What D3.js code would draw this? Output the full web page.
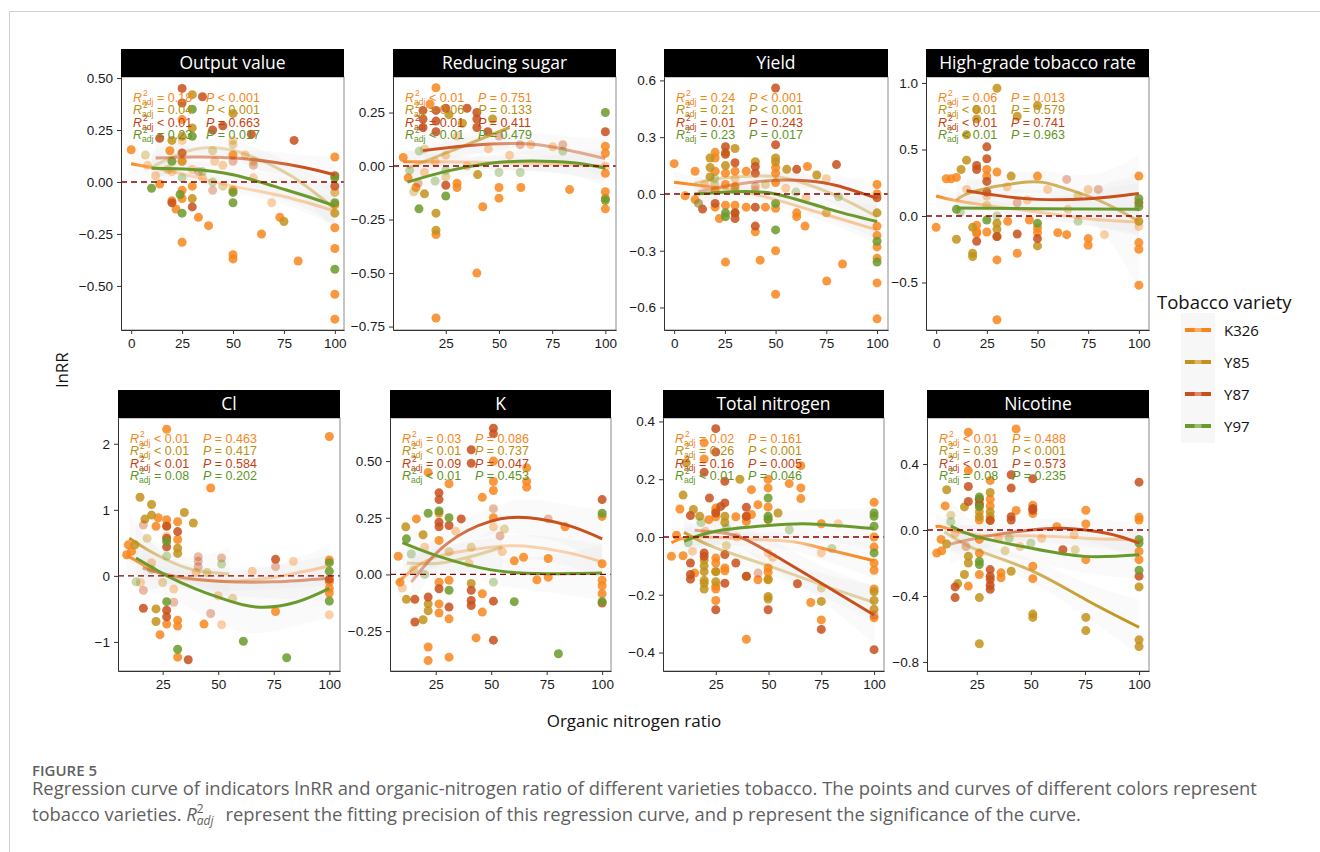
<!DOCTYPE html>
<html>
<head>
<meta charset="utf-8">
<script src="https://cdn.jsdelivr.net/npm/d3@7"></script>
<style>
  body { margin: 0; background: #fff; }
  svg { display: block; }
</style>
</head>
<body>
<svg id="chart" width="1320" height="852"></svg>
<script>
// ---- data ----
const varieties = ['K326', 'Y85', 'Y87', 'Y97'];

const panelTitles = ['Output value', 'Reducing sugar', 'Yield', 'High-grade tobacco rate',
  'Cl', 'K', 'Total nitrogen', 'Nicotine'];

const xDomains = [[-5, 104.5], [0.2, 105], [-5, 105.4], [-5, 105], [4.9, 104.8], [4.4, 104], [0, 104.7], [2, 104.6]];
const yDomains = [[-0.712, 0.505], [-0.766, 0.416], [-0.719, 0.618], [-0.857, 1.045],
  [-1.44, 2.39], [-0.426, 0.69], [-0.464, 0.412], [-0.855, 0.679]];

const xTicks = [[0, 25, 50, 75, 100], [25, 50, 75, 100], [0, 25, 50, 75, 100], [0, 25, 50, 75, 100],
  [25, 50, 75, 100], [25, 50, 75, 100], [25, 50, 75, 100], [25, 50, 75, 100]];
const yTicks = [[-0.5, -0.25, 0, 0.25, 0.5], [-0.75, -0.5, -0.25, 0, 0.25], [-0.6, -0.3, 0, 0.3, 0.6], [-0.5, 0, 0.5, 1.0],
  [-1, 0, 1, 2], [-0.25, 0, 0.25, 0.5], [-0.4, -0.2, 0, 0.2, 0.4], [-0.8, -0.4, 0, 0.4]];
const yTickFormats = ['.2f', '.2f', '.1f', '.1f', 'd', '.2f', '.1f', '.1f'];

// adjusted R2 and P per panel, in variety order
const r2Labels = [
  ['= 0.18', '= 0.04', '< 0.01', '= 0.23'],
  ['< 0.01', '= 0.06', '= 0.01', '< 0.01'],
  ['= 0.24', '= 0.21', '= 0.01', '= 0.23'],
  ['= 0.06', '< 0.01', '< 0.01', '< 0.01'],
  ['< 0.01', '< 0.01', '< 0.01', '= 0.08'],
  ['= 0.03', '< 0.01', '= 0.09', '< 0.01'],
  ['= 0.02', '= 0.26', '= 0.16', '< 0.01'],
  ['< 0.01', '= 0.39', '< 0.01', '= 0.08']
];
const pLabels = [
  ['< 0.001', '< 0.001', '= 0.663', '= 0.017'],
  ['= 0.751', '= 0.133', '= 0.411', '= 0.479'],
  ['< 0.001', '< 0.001', '= 0.243', '= 0.017'],
  ['= 0.013', '= 0.579', '= 0.741', '= 0.963'],
  ['= 0.463', '= 0.417', '= 0.584', '= 0.202'],
  ['= 0.086', '= 0.737', '= 0.047', '= 0.453'],
  ['= 0.161', '< 0.001', '= 0.005', '= 0.046'],
  ['= 0.488', '< 0.001', '= 0.573', '= 0.235']
];

// points: [ratio, lnRR, weight]
const ptsOutput = {
  K326: [[0,0.155,1],[8,0.08,.4],[14,-0.01,1],[19,0.15,1],[20,-0.09,1],[22,-0.13,1],[25,-0.29,1],[25,0.1,1],[25,-0.04,1],[25,-0.08,1],[25,0.3,1],[25,0.2,.4],[30,0.06,.4],[30,-0.02,1],[33,-0.17,1],[38,-0.21,1],[41,0.1,.4],[45,0.08,.4],[50,-0.04,1],[50,-0.35,1],[50,-0.37,1],[50,0.2,.4],[50,0.13,1],[56,0.13,.4],[64,-0.25,1],[69,-0.1,.4],[73,-0.17,1],[82,-0.38,1],[100,0.12,1],[100,-0.11,1],[100,-0.22,1],[100,-0.32,1],[100,-0.54,1],[100,-0.66,1],[100,-0.05,.4],[12,0.03,.4],[20,0.05,.4],[35,0.02,.4],[60,0.02,.4]],
  Y85: [[30,0.42,1],[50,0.33,1],[30,0.26,1],[7,0.13,.4],[20,0.2,1],[25,0.22,1],[25,0.1,.4],[40,0.15,.4],[50,0.18,.4],[18,0.06,.4],[60,0.1,.4],[75,-0.19,1],[100,-0.05,.4],[100,-0.15,1],[30,-0.08,1],[45,-0.02,.4]],
  Y87: [[25,0.45,1],[35,0.41,1],[14,0.21,1],[80,0.2,1],[40,0.25,1],[45,0.27,1],[59,0.23,1],[25,0.14,1],[25,0.38,1],[20,-0.1,1],[30,-0.12,1],[50,0.1,.4],[40,-0.04,.4],[100,0.03,1],[100,-0.02,1],[60,0.08,.4],[33,0.05,.4]],
  Y97: [[30,0.35,1],[30,0.22,1],[10,-0.03,1],[24,-0.06,1],[20,0.1,1],[25,-0.15,1],[50,-0.05,1],[50,-0.1,1],[100,-0.42,1],[100,0.02,1],[100,-0.1,1],[35,0.05,.4],[40,0.0,.4],[25,0.02,.4]]
};
const ptsSugar = {
  K326: [[20.4,0.366,1],[17.6,0.29,1],[20.4,-0.32,1],[20.4,-0.71,1],[39.6,-0.5,1],[42.4,-0.19,1],[50,-0.1,1],[50,-0.15,1],[60.3,-0.1,1],[83.2,-0.11,1],[75.3,0.09,.4],[11,-0.1,1],[7.3,-0.055,1],[5,0.04,1],[30.3,-0.1,1],[30.3,-0.08,1],[30.3,0.14,.4],[25,0.05,.4],[35,0.0,.4],[45,0.08,.4],[65,0.1,.4],[100,0.093,1],[100,0.06,1],[100,-0.034,1],[100,-0.12,1],[100,-0.2,1],[100,0.0,.4],[20,0.02,.4],[15,-0.03,.4],[55,0.05,.4]],
  Y85: [[26.5,0.24,1],[32.8,0.2,1],[20.4,-0.3,1],[20.4,-0.22,1],[15,-0.13,1],[40,-0.04,1],[47,0.22,1],[15,0.08,.4],[25,-0.05,.4],[100,-0.15,1],[10,-0.12,.4]],
  Y87: [[14.3,0.26,1],[14.3,0.22,1],[14.3,0.18,1],[20.4,0.26,1],[20.4,0.21,1],[20.4,0.16,1],[25,0.27,1],[35,0.27,1],[39.6,0.25,1],[39.6,0.22,1],[39.6,0.18,1],[44.8,0.16,1],[50,0.14,.4],[25,-0.09,1],[100,0.16,1],[80,0.1,.4],[12,-0.08,.4],[60,0.1,.4]],
  Y97: [[12.4,-0.2,1],[25,-0.14,1],[12.5,0.07,.4],[25,-0.02,.4],[50,-0.03,.4],[60,-0.03,.4],[100,0.25,1],[100,-0.16,1],[80,0.07,.4],[8,-0.02,.4],[20,-0.07,.4]]
};
const ptsYield = {
  K326: [[0,0.16,1],[5.4,-0.01,1],[10.3,0.12,1],[10.3,-0.03,1],[20.2,0.22,1],[20.2,0.19,1],[20.2,0.12,1],[20.2,0.02,1],[20.2,-0.07,1],[22.3,-0.13,1],[25.3,0.11,1],[25.3,0.05,1],[25.3,-0.06,1],[25.3,-0.36,1],[30,0.12,1],[30,0.04,1],[30,-0.06,1],[35.5,0.12,1],[35.5,-0.07,1],[40,-0.2,1],[42.4,-0.35,1],[45,-0.07,1],[50,0.14,1],[50,0.11,1],[50,0.06,1],[50,-0.076,1],[50,-0.3,1],[50,-0.53,1],[60.4,-0.1,1],[60.4,-0.12,1],[64.5,-0.17,1],[65.7,0.145,1],[75.2,-0.46,1],[75,0.08,.4],[75,-0.1,.4],[83,-0.37,1],[100,0.05,1],[100,0.0,1],[100,-0.17,1],[100,-0.28,1],[100,-0.34,1],[100,-0.47,1],[100,-0.66,1],[100,-0.22,1],[15,0.05,.4],[30,0.08,.4],[40,0.02,.4],[55,0.03,.4],[65,-0.02,.4]],
  Y85: [[17.7,0.19,1],[17.7,0.14,1],[17.7,0.09,1],[25.3,0.22,1],[25.3,0.15,1],[30,0.24,1],[40,0.17,1],[50,0.19,1],[50,0.17,1],[55.5,0.13,1],[70.3,0.1,1],[75,-0.1,.4],[100,-0.1,1],[30,-0.1,1],[20,0.05,.4],[45,0.05,.4]],
  Y87: [[20.2,-0.05,1],[25.3,0.25,1],[25.3,0.21,1],[30,0.165,1],[30,-0.1,1],[30,-0.13,1],[40,0.145,1],[40,0.11,1],[40,-0.07,1],[40,-0.17,1],[50,0.56,1],[50,0.26,1],[60.4,0.13,1],[80,0.155,1],[100,-0.02,1],[14,-0.08,1],[12,-0.05,.4],[40,0.04,.4]],
  Y97: [[25.3,-0.1,1],[25.3,-0.12,1],[50,-0.19,1],[50,-0.05,1],[60,0.01,.4],[81,-0.015,.4],[100,-0.25,1],[100,-0.36,1],[12,-0.05,.4],[20,0.08,.4],[30,0.02,.4]]
};
const ptsGrade = {
  K326: [[0,-0.085,1],[5,0.28,1],[7.4,0.28,1],[10,0.29,1],[20,-0.07,1],[20,-0.12,1],[20,-0.13,1],[25,0.35,1],[25,0.3,1],[25,-0.12,1],[30,0.33,1],[30,-0.33,1],[30,-0.78,1],[35.3,-0.04,1],[40,-0.28,1],[46,-0.03,1],[50,0.3,1],[50,-0.09,1],[50,-0.125,1],[60,-0.125,1],[64.4,-0.14,1],[75,-0.17,1],[75,-0.22,1],[83,-0.14,.4],[100,0.3,1],[100,-0.2,1],[100,-0.25,1],[100,-0.52,1],[15,0.2,.4],[25,0.15,.4],[35,0.22,.4],[45,0.12,.4],[55,0.2,.4],[65,0.05,.4],[75,0.2,.4],[100,-0.08,.4]],
  Y85: [[10,-0.175,1],[12.3,0.35,1],[15,0.42,1],[15,0.61,1],[18,-0.085,1],[18,-0.28,1],[18,-0.305,1],[20,0.8,1],[20,0.73,1],[30,0.96,1],[30,-0.055,1],[30,-0.1,1],[30,-0.155,1],[37,0.3,1],[40,0.75,1],[50,0.83,1],[50,-0.225,1],[100,-0.04,1],[70,0.15,.4],[25,0.08,.4]],
  Y87: [[20,0.38,1],[20,0.35,1],[20,-0.19,1],[25,0.52,1],[25,0.43,1],[25,0.26,1],[25,0.18,1],[30,-0.155,1],[40,-0.135,1],[50,-0.17,1],[64.4,0.275,.4],[80,0.2,.4],[100,0.1,1],[40,0.1,.4]],
  Y97: [[10,0.05,1],[25,-0.03,1],[50,-0.055,1],[100,0.13,1],[100,0.07,1],[12,0.03,.4],[70,-0.04,.4],[30,0.0,.4]]
};
const ptsCl = {
  K326: [[8.8,0.32,1],[9.5,0.47,1],[11,0.37,1],[23,0.88,1],[22,0.75,1],[23.8,-0.89,1],[26.8,2.22,1],[26.8,0.85,1],[26.8,0.76,1],[26.8,0.6,.4],[26.8,-0.73,1],[31.75,0.82,1],[31.75,0.55,1],[31.75,-0.67,1],[31.75,-0.76,1],[31.75,-1.23,1],[43.6,-0.73,1],[46.6,1.33,1],[51.5,-0.74,.4],[65.3,0.07,.4],[75.8,-0.54,1],[83.8,0.22,.4],[100,2.11,1],[100,0.24,1],[100,-0.09,1],[100,-0.19,1],[100,-0.26,1],[100,-0.59,.4],[20,0.2,.4],[30,-0.2,.4],[40,0.05,.4],[50,-0.3,.4],[15,-0.1,.4]],
  Y85: [[12.5,0.47,1],[14.8,1.19,1],[17,0.86,1],[20,1.08,1],[20,0.92,1],[22,-0.69,1],[22,-0.5,1],[31.75,0.42,1],[31.75,0.34,1],[34.75,0.96,1],[38.8,0.8,1],[56.5,-0.34,.4],[18,0.57,.4],[25,-0.1,.4],[45,0.05,.4]],
  Y87: [[16.3,0.77,.4],[16.3,-0.49,1],[16.3,-0.22,.4],[26.8,0.75,1],[26.8,0.57,1],[26.8,0.44,1],[26.8,-0.52,1],[26.8,-0.62,1],[31.75,0.67,1],[36.5,-1.27,1],[41,0.29,.4],[41,0.22,.4],[41,0.14,.4],[46.6,-0.57,.4],[51.5,0.27,.4],[75.8,0.25,1],[75.8,0.14,.4],[100,-0.05,1],[30,-0.4,.4]],
  Y97: [[13,-0.09,.4],[26.8,0.52,1],[26.8,0.3,.4],[26.8,-0.39,1],[31.75,-1.11,1],[51.5,0.18,.4],[61.3,-0.99,1],[80.8,-1.24,1],[100,0.2,1],[100,0.07,1],[100,-0.38,1],[20,0.1,.4]]
};
const ptsK = {
  K326: [[8.1,0.08,1],[8.9,-0.034,1],[10,-0.06,.4],[16.3,0.245,1],[21.6,0.45,1],[21.6,-0.32,1],[21.6,-0.38,1],[26.5,0.27,1],[26.5,0.15,1],[26.5,-0.034,1],[26.5,-0.13,1],[26.5,-0.17,1],[31,0.4,1],[31,-0.026,1],[31,-0.196,1],[31,-0.365,1],[34,0.19,.4],[43.2,-0.28,1],[46,0.34,1],[46,-0.085,1],[46,-0.166,1],[51,0.5,1],[51,0.41,1],[51,0.37,1],[51,0.25,1],[51,0.21,.4],[60.4,0.06,1],[64.6,0.076,1],[66,0.47,1],[66,0.41,1],[66,0.385,1],[70.6,-0.024,1],[75.7,0.07,1],[75.7,-0.012,1],[83.3,0.21,1],[100,0.256,1],[100,0.047,1],[100,-0.026,1],[100,-0.05,1],[100,-0.085,1],[40,0.05,.4],[55,0.1,.4],[20,0.12,.4]],
  Y85: [[11.5,0.21,1],[11.8,-0.11,1],[19.3,0.175,1],[19.3,-0.2,1],[21.6,-0.13,1],[21.6,-0.16,1],[41,-0.04,1],[41,0.12,.4],[56,0.2,.4],[31,0.1,.4],[15,0.02,.4]],
  Y87: [[15.6,-0.21,1],[15.6,-0.11,1],[21.6,-0.1,1],[26.5,0.36,1],[26.5,0.33,1],[26.5,0.23,1],[26.5,0.21,1],[26.5,-0.063,1],[31,0.216,1],[31,-0.144,1],[36.5,0.245,1],[41,0.55,1],[41,0.49,1],[41,-0.07,1],[41,-0.115,1],[41,-0.137,1],[51,0.645,1],[51,0.62,1],[51,0.29,.4],[51,-0.118,1],[51,-0.29,1],[54,0.17,.4],[75.7,0.245,.4],[100,0.33,1],[100,-0.126,1]],
  Y97: [[11.8,0.157,1],[14,0.09,.4],[21.6,0.27,1],[26.5,0.28,1],[31,0.25,1],[31,-0.07,1],[51,-0.034,.4],[60.4,-0.12,1],[80.3,-0.35,1],[100,0.27,1],[100,-0.12,1],[20,0.0,.4]]
};
const ptsTN = {
  K326: [[4,-0.067,1],[6.4,0.006,1],[8,0.097,1],[9.5,-0.065,1],[15,-0.125,1],[19.5,0.326,1],[19.5,0.27,1],[21.7,0.06,1],[25,0.1,1],[25,0.089,1],[25,0.07,1],[25,-0.073,1],[25,-0.09,1],[25,-0.12,1],[25,-0.17,1],[25,-0.18,1],[25,-0.22,1],[29.3,-0.107,1],[29.3,-0.117,1],[34.5,0.07,1],[39.5,-0.354,1],[39.5,0.07,1],[39.5,0.054,1],[41.9,0.164,1],[41.9,0.078,1],[45,0.112,1],[45,-0.148,1],[49.8,0.2,1],[49.8,0.17,1],[49.8,0.104,1],[49.8,0.06,1],[49.8,-0.055,.4],[49.8,-0.107,1],[49.8,-0.122,1],[49.8,-0.146,1],[52,-0.07,.4],[59.8,0.185,1],[65.3,0.17,1],[65.3,0.133,1],[65.3,0.247,1],[70,-0.227,1],[75,0.046,1],[75,-0.287,1],[75,-0.055,.4],[83,0.046,.4],[100,0.12,1],[100,0.0,1],[100,-0.035,1],[100,-0.09,1],[100,-0.115,1],[100,-0.18,1],[100,-0.28,1],[14,-0.05,.4],[20,0.02,.4],[35,0.0,.4]],
  Y85: [[9.5,0.145,1],[11,0.257,1],[14.4,0.095,1],[17.4,0.072,1],[19.5,-0.08,1],[19.5,-0.1,1],[19.5,-0.12,1],[19.5,-0.15,1],[19.5,-0.16,1],[19.5,-0.18,1],[25,-0.12,1],[25,-0.155,1],[29.3,0.072,1],[29.3,0.05,1],[36.4,0.2,1],[39.5,-0.136,1],[49.8,-0.148,1],[49.8,-0.206,1],[49.8,-0.215,1],[54.5,0.083,1],[75,-0.177,.4],[75,-0.223,1],[100,-0.19,1],[100,-0.22,1],[100,-0.25,1],[30,-0.03,.4]],
  Y87: [[13,0.074,1],[13,-0.09,1],[13,-0.13,1],[13,-0.146,1],[19.5,0.224,1],[19.5,-0.055,1],[19.5,-0.067,1],[22,0.135,1],[25,0.375,1],[25,0.294,1],[25,0.083,1],[25,-0.252,1],[27.4,0.106,1],[29.3,0.193,1],[29.3,0.118,1],[29.3,-0.061,1],[29.3,-0.16,1],[34.5,-0.09,1],[39.5,0.103,1],[39.5,0.072,1],[39.5,-0.136,1],[45,-0.125,.4],[49.8,-0.252,1],[63.7,-0.162,1],[75,-0.32,1],[100,-0.39,1],[100,-0.27,.4]],
  Y97: [[49.8,0.135,1],[49.8,0.072,1],[49.8,0.062,1],[59.8,0.025,.4],[80,-0.04,.4],[100,0.083,1],[100,0.072,1],[100,0.037,1],[100,-0.055,1],[12,-0.02,.4],[18,0.05,.4],[30,0.03,.4]]
};
const ptsNic = {
  K326: [[6.5,-0.14,1],[8.8,-0.126,1],[10.4,0.146,1],[8.5,-0.057,1],[21.1,0.593,1],[21.1,0.36,1],[21.1,-0.34,1],[26.2,0.11,1],[26.2,0.06,1],[26.2,-0.057,1],[26.2,-0.14,1],[26.2,-0.27,1],[31.2,0.3,1],[31.2,0.187,1],[31.2,0.146,1],[31.2,0.06,1],[36.2,-0.26,1],[36.2,-0.29,1],[43.2,0.613,1],[43.2,0.118,1],[50.9,0.15,1],[50.9,0.1,1],[50.9,-0.22,1],[50.9,-0.295,1],[62,0.02,1],[75.4,0.12,1],[75.4,0.037,1],[75.4,-0.18,1],[100,0.077,1],[100,0.06,1],[100,-0.13,1],[100,-0.18,1],[15,-0.02,.4],[35,-0.05,.4],[45,-0.1,.4],[55,-0.05,.4],[70,-0.03,.4]],
  Y85: [[11.1,0.244,1],[11.1,-0.085,1],[13,0.09,.4],[16.2,-0.325,1],[19.3,-0.27,1],[19.3,0.14,1],[21.1,-0.16,1],[21.1,-0.2,1],[26.2,0.187,1],[26.2,0.152,1],[26.2,0.081,1],[26.2,-0.41,1],[26.2,-0.69,1],[31.2,0.227,1],[31.2,0.11,1],[31.2,0.08,1],[38.1,-0.126,.4],[40.9,-0.25,1],[50.9,-0.51,1],[50.9,-0.53,1],[70.5,-0.12,.4],[75.4,-0.53,1],[75.4,-0.61,1],[100,-0.345,1],[100,-0.666,1],[100,-0.707,1]],
  Y87: [[15,-0.345,1],[15,-0.41,1],[21.1,0.264,1],[21.1,0.173,1],[26.2,0.187,1],[26.2,0.158,1],[31.2,0.057,1],[31.2,-0.24,1],[31.2,-0.28,1],[31.2,-0.3,1],[31.2,-0.335,1],[31.2,-0.36,1],[40.9,0.335,1],[40.9,0.254,1],[40.9,0.081,1],[40.9,0.06,1],[50.9,0.31,1],[50.9,0.13,1],[50.9,0.12,1],[64.8,-0.12,1],[100,0.29,1],[100,-0.28,1],[20,-0.1,.4]],
  Y97: [[26.2,0.2,1],[26.2,0.14,1],[26.2,-0.19,1],[26.2,-0.21,1],[100,-0.057,1],[100,-0.08,1],[100,-0.244,1],[13,0.05,.4],[40,-0.05,.4],[50,-0.08,.4]]
};

// fitted curves: [ratio, fitted lnRR, weight, half-width of band]
const fitOutput = {
  K326: [[0,0.088,1,.06],[10,0.07,.6,.04],[25,0.04,.3,.03],[50,-0.02,.3,.03],[75,-0.07,.35,.04],[100,-0.14,.4,.07]],
  Y85: [[10,0.07,.3,.08],[25,0.14,.3,.05],[42,0.165,.3,.04],[60,0.12,.35,.05],[80,0.02,.4,.06],[100,-0.13,.5,.11]],
  Y87: [[12,0.115,.5,.1],[30,0.12,.5,.05],[50,0.115,.55,.04],[70,0.095,.8,.05],[85,0.07,1,.06],[100,0.035,1,.09]],
  Y97: [[10,0.066,1,.07],[30,0.06,1,.04],[50,0.035,1,.04],[70,-0.02,1,.05],[85,-0.065,1,.06],[100,-0.115,1,.09]]
};
const fitSugar = {
  K326: [[5,0.02,1,.06],[25,0.02,.35,.03],[50,0.015,.35,.03],[75,0.01,.35,.04],[100,0.0,.4,.07]],
  Y85: [[7,-0.01,.4,.08],[30,0.08,.6,.05],[55,0.18,.8,.1]],
  Y87: [[14.3,0.072,1,.08],[35,0.095,.9,.04],[60,0.105,.5,.05],[80,0.08,.45,.06],[100,0.035,.45,.09]],
  Y97: [[7,-0.075,1,.08],[25,-0.025,1,.05],[45,0.012,1,.04],[65,0.024,1,.05],[85,0.015,1,.06],[100,-0.01,1,.09]]
};
const fitYield = {
  K326: [[0,0.062,1,.06],[10,0.048,.9,.04],[30,0.02,.35,.03],[50,-0.03,.35,.03],[75,-0.11,.4,.04],[100,-0.19,.45,.07]],
  Y85: [[10,0.056,.35,.06],[25,0.085,.35,.04],[45,0.095,.35,.03],[60,0.07,.35,.04],[80,-0.01,.4,.05],[100,-0.12,.4,.08]],
  Y87: [[12,0.012,.4,.07],[30,0.05,.45,.04],[50,0.072,.6,.04],[65,0.07,.85,.04],[80,0.045,1,.05],[100,-0.023,1,.08]],
  Y97: [[10,0.0,1,.07],[30,0.012,1,.04],[50,0.0,1,.04],[75,-0.076,1,.05],[100,-0.146,1,.09]]
};
const fitGrade = {
  K326: [[0,0.15,1,.1],[10,0.115,.6,.06],[30,0.07,.35,.04],[50,0.03,.35,.04],[75,-0.02,.35,.05],[100,-0.045,.4,.09]],
  Y85: [[10,0.12,.6,.14],[20,0.19,.7,.09],[45,0.255,.75,.08],[60,0.225,.7,.1],[80,0.12,.6,.2],[100,-0.04,.6,.5]],
  Y87: [[15,0.19,1,.12],[30,0.155,1,.07],[50,0.125,1,.07],[75,0.13,1,.08],[100,0.17,1,.15]],
  Y97: [[10,0.06,1,.12],[50,0.055,1,.08],[100,0.05,1,.2]]
};
const fitCl = {
  K326: [[8.8,0.3,1,.3],[12.5,0.24,.9,.22],[25,0.02,.35,.12],[40,-0.06,.35,.12],[55,-0.08,.35,.15],[75,-0.02,.35,.18],[100,0.15,.4,.3]],
  Y85: [[10,0.57,1,.35],[18,0.4,.6,.22],[27,0.24,.4,.16],[39,0.09,.35,.2],[55,0.03,.35,.4]],
  Y87: [[16,0.12,.5,.35],[30,0.0,.5,.18],[50,-0.08,.55,.2],[75,-0.09,.55,.25],[100,-0.035,.55,.35]],
  Y97: [[13,0.27,1,.5],[27,0.0,1,.3],[40,-0.2,1,.35],[51.5,-0.34,1,.4],[67,-0.47,1,.4],[85,-0.4,1,.35],[100,-0.19,1,.45]]
};
const fitK = {
  K326: [[8,-0.034,1,.06],[12,0.0,.6,.05],[25,0.076,.35,.04],[50,0.12,.35,.04],[65,0.125,.35,.05],[85,0.095,.35,.06],[100,0.054,.4,.08]],
  Y85: [[12,0.05,.35,.07],[30,0.054,.35,.05],[55,0.12,.4,.1]],
  Y87: [[14,-0.034,.4,.1],[30,0.135,.7,.06],[50,0.235,1,.06],[67,0.25,1,.08],[85,0.215,1,.09],[100,0.157,1,.13]],
  Y97: [[10,0.14,1,.1],[25,0.084,1,.06],[50,0.02,1,.06],[75,0.003,1,.08],[100,0.006,1,.12]]
};
const fitTN = {
  K326: [[4,-0.02,1,.05],[15,0.0,.5,.03],[40,-0.007,.35,.025],[60,-0.015,.4,.03],[75,-0.038,.8,.04],[100,-0.082,1,.06]],
  Y85: [[10,0.016,.9,.05],[25,-0.038,.45,.03],[50,-0.1,.4,.03],[75,-0.165,.35,.04],[100,-0.227,.4,.06]],
  Y87: [[15,0.023,.45,.06],[30,0.012,.5,.04],[40,-0.012,.8,.04],[55,-0.073,1,.05],[75,-0.16,1,.06],[100,-0.27,1,.1]],
  Y97: [[10,-0.015,1,.06],[25,0.02,1,.04],[50,0.04,1,.04],[70,0.045,1,.05],[100,0.029,1,.07]]
};
const fitNic = {
  K326: [[6,0.02,1,.08],[10,0.015,.8,.06],[25,-0.03,.35,.04],[50,-0.035,.35,.04],[75,-0.05,.35,.05],[100,-0.06,.4,.08]],
  Y85: [[10,-0.01,.4,.1],[25,-0.12,.45,.06],[50,-0.245,.7,.07],[75,-0.42,.9,.1],[100,-0.59,1,.17]],
  Y87: [[13,-0.085,.45,.12],[30,-0.037,.5,.07],[50,0.0,.8,.06],[65,0.01,1,.06],[85,-0.02,1,.08],[100,-0.08,1,.12]],
  Y97: [[13,0.024,1,.15],[25,-0.04,1,.09],[50,-0.11,1,.08],[75,-0.16,1,.1],[100,-0.15,1,.15]]
};

const panelPoints = [ptsOutput, ptsSugar, ptsYield, ptsGrade, ptsCl, ptsK, ptsTN, ptsNic];
const panelFits = [fitOutput, fitSugar, fitYield, fitGrade, fitCl, fitK, fitTN, fitNic];

// ---- styles / layout ----
const lineColor = { K326: '#f8861c', Y85: '#c2921a', Y87: '#c8501c', Y97: '#6b9a2c' };
const labelColor = { K326: '#f5861a', Y85: '#b8900e', Y87: '#c43f12', Y97: '#5f9424' };
const sans = '"Open Sans", "Noto Sans", sans-serif';
const arial = '"Liberation Sans", Arial, sans-serif';

// plot rectangles (inside the strips)
const panelBoxes = [
  { l: 121, r: 344, t: 77, b: 330 }, { l: 393, r: 616, t: 77, b: 330 },
  { l: 664, r: 888, t: 77, b: 330 }, { l: 926, r: 1149, t: 77, b: 330 },
  { l: 118, r: 340, t: 418, b: 671 }, { l: 390, r: 611, t: 418, b: 671 },
  { l: 663, r: 884, t: 418, b: 671 }, { l: 927, r: 1149, t: 418, b: 671 }
];
const stripH = 28;

const svg = d3.select('#chart');
const defs = svg.append('defs');

// light frame round the figure
svg.append('path').attr('d', 'M9.5,852 V11.5 H1320').attr('fill', 'none').attr('stroke', '#d0d0d0');

const ptOpacity = d3.scaleLinear().domain([0, 1]).range([0.08, 0.85]);

panelBoxes.forEach((box, i) => {
  const x = d3.scaleLinear().domain(xDomains[i]).range([box.l, box.r]);
  const y = d3.scaleLinear().domain(yDomains[i]).range([box.b, box.t]);
  const g = svg.append('g').attr('class', 'panel');

  defs.append('clipPath').attr('id', 'clip' + i)
    .append('rect').attr('x', box.l).attr('y', box.t).attr('width', box.r - box.l).attr('height', box.b - box.t);

  g.append('rect').attr('x', box.l).attr('y', box.t).attr('width', box.r - box.l).attr('height', box.b - box.t)
    .attr('fill', '#fff');

  const inner = g.append('g').attr('clip-path', `url(#clip${i})`);

  // confidence bands
  varieties.forEach(v => {
    const fit = panelFits[i][v];
    inner.append('path')
      .attr('d', d3.area().x(d => x(d[0])).y0(d => y(d[1] - d[3])).y1(d => y(d[1] + d[3])).curve(d3.curveNatural)(fit))
      .attr('fill', '#e2e2e2').attr('opacity', 0.16);
  });

  // points
  varieties.forEach(v => {
    inner.append('g').selectAll('circle').data(panelPoints[i][v]).enter().append('circle')
      .attr('cx', d => x(d[0])).attr('cy', d => y(d[1])).attr('r', 4.5)
      .attr('fill', lineColor[v]).attr('fill-opacity', d => ptOpacity(d[2]));
  });

  // fitted curves, faded where the weight is low
  varieties.forEach(v => {
    const fit = panelFits[i][v];
    const x1 = x(fit[0][0]), x2 = x(fit[fit.length - 1][0]);
    const gid = `grad${i}${v}`;
    const grad = defs.append('linearGradient').attr('id', gid)
      .attr('gradientUnits', 'userSpaceOnUse').attr('x1', x1).attr('x2', x2).attr('y1', 0).attr('y2', 0);
    fit.forEach(d => {
      grad.append('stop').attr('offset', (x(d[0]) - x1) / (x2 - x1))
        .attr('stop-color', lineColor[v]).attr('stop-opacity', d[2]);
    });
    inner.append('path')
      .attr('d', d3.line().x(d => x(d[0])).y(d => y(d[1])).curve(d3.curveNatural)(fit))
      .attr('fill', 'none').attr('stroke', `url(#${gid})`).attr('stroke-width', 3).attr('stroke-linecap', 'butt');
  });

  // zero reference line
  inner.append('line').attr('x1', box.l).attr('x2', box.r).attr('y1', y(0)).attr('y2', y(0))
    .attr('stroke', '#8b0000').attr('stroke-width', 1.4).attr('stroke-dasharray', '6,4');

  // R2 / P annotation
  varieties.forEach((v, k) => {
    const yb = box.t + 25 + k * 12.4;
    const t = g.append('g').attr('fill', labelColor[v]).attr('font-family', arial);
    t.append('text').attr('x', box.l + 12).attr('y', yb).attr('font-size', 12.5).attr('font-style', 'italic').text('R');
    t.append('text').attr('x', box.l + 22).attr('y', yb - 6).attr('font-size', 8.5).text('2');
    t.append('text').attr('x', box.l + 21).attr('y', yb + 3).attr('font-size', 8.5).text('adj');
    t.append('text').attr('x', box.l + 36).attr('y', yb).attr('font-size', 12.5).text(r2Labels[i][k]);
    const p = t.append('text').attr('x', box.l + 85).attr('y', yb).attr('font-size', 12.5);
    p.append('tspan').attr('font-style', 'italic').text('P');
    p.append('tspan').text(' ' + pLabels[i][k]);
  });

  // panel border
  g.append('rect').attr('x', box.l + 0.5).attr('y', box.t).attr('width', box.r - box.l - 0.5).attr('height', box.b - box.t)
    .attr('fill', 'none').attr('stroke', '#8a8a8a').attr('stroke-width', 1);

  // strip
  g.append('rect').attr('x', box.l).attr('y', box.t - stripH).attr('width', box.r - box.l).attr('height', stripH)
    .attr('fill', '#000');
  g.append('text').attr('x', (box.l + box.r) / 2).attr('y', box.t - 8).attr('text-anchor', 'middle')
    .attr('fill', '#fff').attr('font-family', sans).attr('font-size', 17.5).text(panelTitles[i]);

  // axes
  const ax = g.append('g').attr('transform', `translate(${box.l},0)`)
    .call(d3.axisLeft(y).tickValues(yTicks[i]).tickSize(4).tickPadding(4).tickSizeOuter(0).tickFormat(d3.format(yTickFormats[i])));
  const bx = g.append('g').attr('transform', `translate(0,${box.b})`)
    .call(d3.axisBottom(x).tickValues(xTicks[i]).tickSize(4).tickPadding(4).tickSizeOuter(0));
  [ax, bx].forEach(a => {
    a.attr('font-family', arial).attr('font-size', 13.5);
    a.select('.domain').attr('stroke', '#333');
    a.selectAll('.tick line').attr('stroke', '#333');
    a.selectAll('.tick text').attr('fill', '#1a1a1a');
  });
});

// axis titles
svg.append('text').attr('transform', 'translate(68,370) rotate(-90)').attr('text-anchor', 'middle')
  .attr('font-family', sans).attr('font-size', 17).attr('fill', '#111').text('lnRR');
svg.append('text').attr('x', 634).attr('y', 727).attr('text-anchor', 'middle')
  .attr('font-family', sans).attr('font-size', 17).attr('fill', '#111').text('Organic nitrogen ratio');

// legend
const lg = svg.append('g').attr('font-family', sans);
lg.append('text').attr('x', 1157).attr('y', 309).attr('font-size', 18.5).attr('fill', '#111').text('Tobacco variety');
lg.append('rect').attr('x', 1181).attr('y', 313).attr('width', 34).attr('height', 130).attr('fill', '#f7f7f7');
const keyY = d3.scalePoint().domain(varieties).range([330, 426]);
varieties.forEach(v => {
  const ky = keyY(v);
  lg.append('line').attr('x1', 1185).attr('x2', 1211).attr('y1', ky).attr('y2', ky)
    .attr('stroke', lineColor[v]).attr('stroke-width', 4);
  lg.append('circle').attr('cx', 1198).attr('cy', ky).attr('r', 3.5).attr('fill', '#fff').attr('fill-opacity', 0.35);
  lg.append('text').attr('x', 1224).attr('y', ky + 5.5).attr('font-size', 15).attr('fill', '#111').text(v);
});

// caption
const cap = svg.append('g').attr('font-family', sans).attr('fill', '#5f5f5f');
cap.append('text').attr('x', 32).attr('y', 776).attr('font-size', 15).attr('font-weight', 600).text('FIGURE 5');
cap.append('text').attr('x', 32).attr('y', 795).attr('font-size', 18.4)
  .text('Regression curve of indicators lnRR and organic-nitrogen ratio of different varieties tobacco. The points and curves of different colors represent');
const c2 = cap.append('text').attr('x', 32).attr('y', 821).attr('font-size', 18.4);
c2.append('tspan').text('tobacco varieties. ');
c2.append('tspan').attr('font-style', 'italic').text('R');
c2.append('tspan').attr('font-size', 12).attr('dy', -8).text('2');
c2.append('tspan').attr('font-size', 12).attr('font-style', 'italic').attr('dx', -7).attr('dy', 12).text('adj');
c2.append('tspan').attr('dx', 12).attr('dy', -4).text('represent the fitting precision of this regression curve, and p represent the significance of the curve.');
</script>
</body>
</html>
